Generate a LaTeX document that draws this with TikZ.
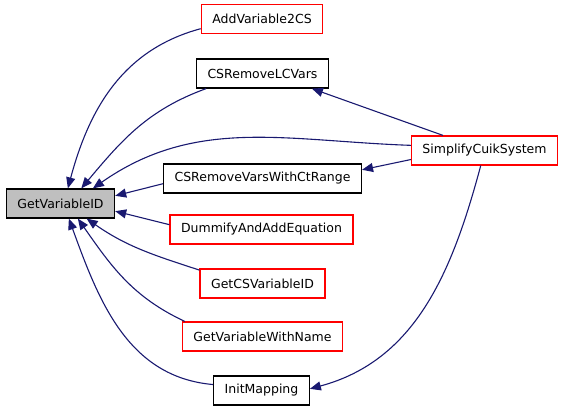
\documentclass[tikz,border=0pt]{standalone}
\usepackage{fontspec}
\setmainfont{DejaVu Sans}
\usepackage{tikz}
\usetikzlibrary{arrows.meta}
\definecolor{edgeblue}{RGB}{25,25,112}
\definecolor{callred}{RGB}{255,0,0}
\definecolor{rootgray}{RGB}{191,191,191}
\tikzset{
  fnbox/.style={draw=black, line width=1.2pt, fill=white, minimum height=29pt, inner xsep=11pt, inner ysep=0pt, font=\fontsize{12.5}{14}\selectfont},
  rootbox/.style={fnbox, fill=rootgray},
  redbox/.style={fnbox, draw=callred},
  edge/.style={-{Triangle[length=11pt,width=9pt]}, draw=edgeblue, line width=1.1pt}
}
\begin{document}
\begin{tikzpicture}[x=1pt,y=-1pt]
  \useasboundingbox (0,0) rectangle (565,411);
  \node[rootbox] (GetVariableID) at (60.5,203.5) {GetVariableID};
  \node[redbox] (AddVariable2CS) at (262,19) {AddVariable2CS};
  \node[fnbox] (CSRemoveLCVars) at (262.5,73.5) {CSRemoveLCVars};
  \node[redbox] (SimplifyCuikSystem) at (484.5,150.5) {SimplifyCuikSystem};
  \node[fnbox] (CSRemoveVarsWithCtRange) at (262.5,178.5) {CSRemoveVarsWithCtRange};
  \node[redbox] (DummifyAndAddEquation) at (261.5,229.5) {DummifyAndAddEquation};
  \node[redbox] (GetCSVariableID) at (262.5,283.5) {GetCSVariableID};
  \node[redbox] (GetVariableWithName) at (262.5,336.5) {GetVariableWithName};
  \node[fnbox] (InitMapping) at (261.5,390.5) {InitMapping};

  \draw[edge] (AddVariable2CS.189) to[out=195,in=75] (GetVariableID.64);
  \draw[edge] (CSRemoveLCVars.195) to[out=200,in=50] (GetVariableID.36);
  \draw[edge] (SimplifyCuikSystem.176) to[out=178,in=35] (GetVariableID.25);
  \draw[edge] (CSRemoveVarsWithCtRange.183) -- (GetVariableID.8);
  \draw[edge] (DummifyAndAddEquation.177) -- (GetVariableID.-8);
  \draw[edge] (GetCSVariableID.168) to[out=162,in=-35] (GetVariableID.-30);
  \draw[edge] (GetVariableWithName.169) to[out=155,in=-55] (GetVariableID.-41);
  \draw[edge] (InitMapping.173) to[out=175,in=-70] (GetVariableID.-61);
  \draw[edge] (SimplifyCuikSystem.160) -- (CSRemoveLCVars.-17);
  \draw[edge] (SimplifyCuikSystem.187) -- (CSRemoveVarsWithCtRange.5);
  \draw[edge] (SimplifyCuikSystem.256) to[out=-105,in=15] (InitMapping.2);
\end{tikzpicture}
\end{document}
